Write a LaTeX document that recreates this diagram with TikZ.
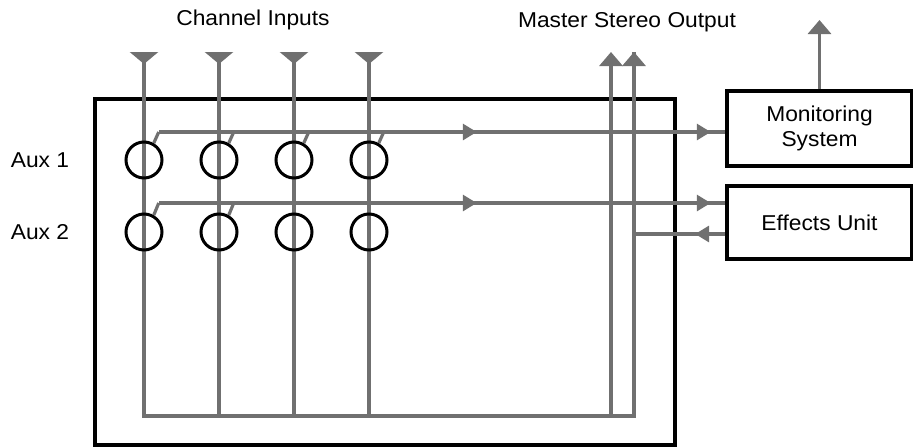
\documentclass[tikz,border=0pt]{standalone}
\usepackage{fontspec}
\setmainfont{Liberation Sans}[FakeStretch=1.06]
\usetikzlibrary{arrows.meta,calc,decorations.markings}
\definecolor{wiregray}{RGB}{112,112,112}

\begin{document}
\begin{tikzpicture}[x=1pt, y=-1pt, font=\fontsize{21.5}{25}\selectfont,
	wire/.style={color=wiregray, line width=3.2pt},
	intip/.style={{Triangle[reversed, width=28pt, length=12pt]}-},
	outtip/.style={-{Triangle[width=23pt, length=14pt]}},
	busarrows/.style={postaction={decorate}, decoration={markings,
		mark=at position 318pt with {\arrow{Triangle[width=16pt, length=14pt]}},
		mark=at position 552pt with {\arrow{Triangle[width=16pt, length=14pt]}}}},
	retarrow/.style={postaction={decorate}, decoration={markings,
		mark=at position 0.33 with {\arrow{Triangle[width=16pt, length=14pt]}}}},
	pot/.style={circle, draw, line width=3pt, minimum size=36pt, inner sep=0pt},
	unit/.style={draw, line width=3.5pt, minimum width=185pt, align=center}]
	\useasboundingbox (0,0) rectangle (913,447);
	\draw[line width=3.5pt] (95,99) rectangle (675,445);
	\node (mon) [unit, minimum height=75pt] at (819.5,128.5) {Monitoring\\System};
	\node (fx) [unit, minimum height=73pt] at (819.5,222.5) {Effects Unit};
	\node (chtitle) at (253,20) {Channel Inputs};
	\node (mstitle) at (627,22) {Master Stereo Output};
	\node (aux1) at (40,160) {Aux 1};
	\node (aux2) at (40,232) {Aux 2};
	% rows and free ends
	\coordinate (r1) at (0,132);
	\coordinate (r2) at (0,203);
	\coordinate (ret) at (634,234);
	\coordinate (ml) at (611,416);
	\coordinate (mr) at (634,416);
	\coordinate (mlt) at (611,52);
	\coordinate (mrt) at (634,52);
	\coordinate (monout) at (818,20);
	\foreach \i/\x in {1/144, 2/219, 3/294, 4/369} {
		\coordinate (in\i) at (\x,52);
		\coordinate (bot\i) at (\x,416);
	}
	% channel strips into the master rail
	\draw[wire, intip, line join=miter] (in1) -- (bot1) -- (mr) -- (mrt);
	\draw[wire, outtip] (mr) -- (mrt);
	\foreach \i in {2,3,4} \draw[wire, intip] (in\i) -- (bot\i);
	\draw[wire, outtip] (ml) -- (mlt);
	\foreach \i/\x in {1/144, 2/219, 3/294, 4/369} {
		\node (pa\i) [pot] at (\x,160) {};
		\node (pb\i) [pot] at (\x,232) {};
	}
	% aux sends
	\foreach \i in {1,...,4} \draw[wire] (pa\i.60) -- ($(pa\i.60 |- r1)+(5,0)$);
	\foreach \i in {1,2} \draw[wire] (pb\i.60) -- ($(pb\i.60 |- r2)+(5,0)$);
	\draw[wire, busarrows] ($(pa1.60 |- r1)+(5,0)$) -- (mon.west |- r1);
	\draw[wire, busarrows] ($(pb1.60 |- r2)+(5,0)$) -- (fx.west |- r2);
	\draw[wire, retarrow] (fx.west |- ret) -- (ret);
	\draw[wire, outtip] (mon.north) -- (mon.north |- monout);
\end{tikzpicture}
\end{document}
